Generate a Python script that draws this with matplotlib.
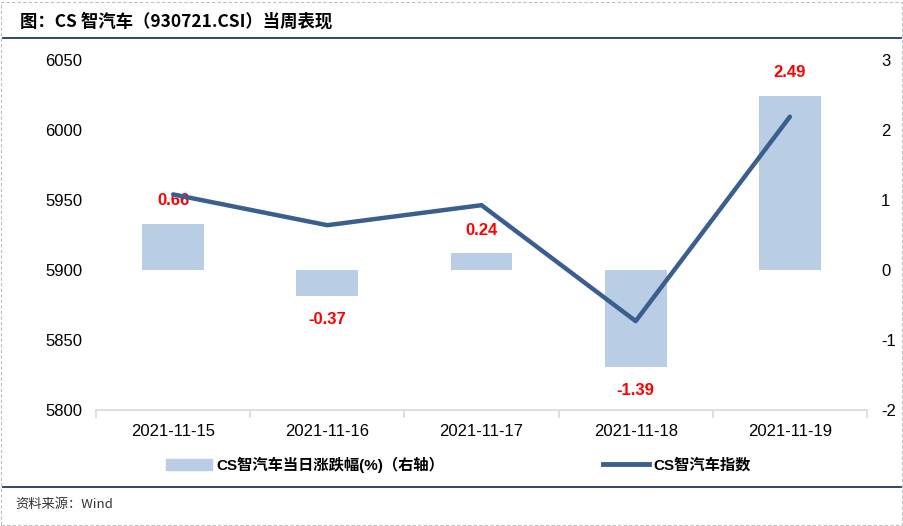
import numpy as np
import matplotlib.pyplot as plt
from matplotlib.patches import Patch
from matplotlib.lines import Line2D

plt.rcParams['font.family'] = ['Liberation Sans', 'Noto Sans CJK SC', 'DejaVu Sans']
plt.rcParams['axes.unicode_minus'] = False

dates = ['2021-11-15', '2021-11-16', '2021-11-17', '2021-11-18', '2021-11-19']
pct_chg = [0.66, -0.37, 0.24, -1.39, 2.49]
index_close = [5954.0, 5932.0, 5946.3, 5863.5, 6009.5]

bar_color = '#B9CDE5'
line_color = '#3A5F8F'
navy = '#1F3864'

fig = plt.figure(figsize=(9.04, 5.26), dpi=100)
W, H = 904, 526

# outer dashed frame
frame = plt.Rectangle((1.5 / W, 1.5 / H), 1 - 3 / W, 1 - 3 / H, transform=fig.transFigure,
                      fill=False, ec='#BFBFBF', lw=0.8, ls=(0, (3, 2)))
fig.patches.append(frame)

fig.text(20 / W, 1 - 22 / H, '图：CS 智汽车（930721.CSI）当周表现', fontsize=12.5,
         fontweight='bold', va='center', ha='left', family=['Noto Sans CJK SC', 'DejaVu Sans'])
fig.add_artist(Line2D([3 / W, 1 - 3 / W], [1 - 38 / H, 1 - 38 / H], color=navy, lw=1.3,
                      transform=fig.transFigure))
fig.add_artist(Line2D([3 / W, 1 - 3 / W], [1 - 487 / H, 1 - 487 / H], color=navy, lw=1.3,
                      transform=fig.transFigure))
fig.text(15 / W, 1 - 504 / H, '资料来源：Wind', fontsize=9.5, va='center', ha='left',
         color='#333333', family=['Noto Sans CJK SC', 'DejaVu Sans'])

left, right, top, bottom = 96, 867, 60, 410
ax = fig.add_axes([left / W, 1 - bottom / H, (right - left) / W, (bottom - top) / H])
ax2 = ax.twinx()

x = np.arange(len(dates))
ax2.bar(x, pct_chg, width=0.4, color=bar_color, zorder=1)
for xi, v in zip(x, pct_chg):
    off = 0.33 if v >= 0 else -0.33
    ax2.text(xi, v + off, f'{v:.2f}', color='#FF0000', fontweight='bold', fontsize=12,
             ha='center', va='center')
ax2.set_ylim(-2, 3)
ax2.set_yticks(range(-2, 4))

ax.plot(x, index_close, color=line_color, lw=3.2, solid_capstyle='round', zorder=5)
ax.set_ylim(5800, 6050)
ax.set_yticks(range(5800, 6051, 50))
ax.set_xlim(-0.5, len(dates) - 0.5)
ax.set_zorder(ax2.get_zorder() + 1)
ax.patch.set_visible(False)

ax.set_xticks(x)
ax.set_xticklabels(dates)
ax.set_xticks(np.arange(-0.5, len(dates), 1), minor=True)
ax.tick_params(axis='x', which='major', length=0, pad=10, labelsize=12)
ax.tick_params(axis='x', which='minor', length=6, color='#D9D9D9', width=1.2)
ax.tick_params(axis='y', length=0, labelsize=12, pad=10)
ax2.tick_params(axis='y', length=0, labelsize=12, pad=10)

for a in (ax, ax2):
    for s in ('top', 'right', 'left'):
        a.spines[s].set_visible(False)
ax2.spines['bottom'].set_visible(False)
ax.spines['bottom'].set_color('#D9D9D9')
ax.spines['bottom'].set_linewidth(1.2)

leg_font = {'family': ['Liberation Sans', 'Noto Sans CJK SC'], 'weight': 'bold', 'size': 11}
fig.legend([Patch(color=bar_color)], ['CS智汽车当日涨跌幅(%)（右轴）'], loc='center left',
           bbox_to_anchor=(166 / W, 1 - 465 / H), frameon=False, borderpad=0, borderaxespad=0,
           handlelength=3, handletextpad=0.3, prop=leg_font)
fig.legend([Line2D([], [], color=line_color, lw=3.5)], ['CS智汽车指数'], loc='center left',
           bbox_to_anchor=(603 / W, 1 - 465 / H), frameon=False, borderpad=0, borderaxespad=0,
           handlelength=3, handletextpad=0.3, prop=leg_font)

fig.savefig('out.png', dpi=100)
